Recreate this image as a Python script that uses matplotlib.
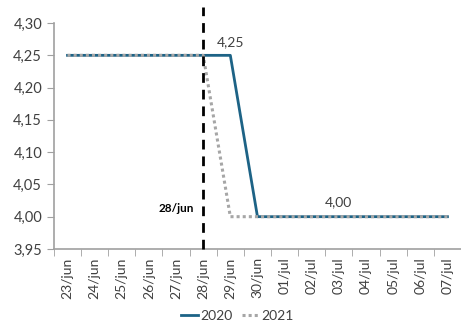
import numpy as np
import matplotlib.pyplot as plt

dias = ["23/jun", "24/jun", "25/jun", "26/jun", "27/jun", "28/jun", "29/jun", "30/jun",
        "01/jul", "02/jul", "03/jul", "04/jul", "05/jul", "06/jul", "07/jul"]
s2020 = [4.25, 4.25, 4.25, 4.25, 4.25, 4.25, 4.25, 4.00, 4.00, 4.00, 4.00, 4.00, 4.00, 4.00, 4.00]
s2021 = [4.25, 4.25, 4.25, 4.25, 4.25, 4.25, 4.00, 4.00, 4.00, 4.00, 4.00, 4.00, 4.00, 4.00, 4.00]
yticks = [3.95, 4.00, 4.05, 4.10, 4.15, 4.20, 4.25, 4.30]

plt.rcParams['font.family'] = ['Lato', 'DejaVu Sans']
fig = plt.figure(figsize=(4.61, 3.25), dpi=100)
ax = fig.add_axes([0.117, 0.234, 0.883, 0.695])

x = np.arange(len(dias))
ax.plot(x, s2020, color='#1d6386', lw=2, label='2020', zorder=3)
ax.plot(x, s2021, color='#a6a6a6', lw=2.2, ls=(0, (1, 1)), label='2021', zorder=4)

ax.plot([5, 5], [3.95, 4.325], color='black', lw=2, ls=(0, (3.5, 2.5)), clip_on=False, zorder=5)
ax.text(4.65, 4.013, "28/jun", fontsize=8.5, fontweight='bold', ha='right', va='center')
ax.text(6.0, 4.27, "4,25", fontsize=10, color='#404040', ha='center', va='center')
ax.text(10.0, 4.022, "4,00", fontsize=10, color='#404040', ha='center', va='center')

ax.set_xlim(-0.5, len(dias) - 0.5)
ax.set_ylim(3.95, 4.30)
ax.set_yticks(yticks)
ax.set_yticklabels([f"{v:.2f}".replace('.', ',') for v in yticks], fontsize=10.5, color='#404040')
ax.set_xticks(x)
ax.set_xticklabels(dias, rotation=90, fontsize=10, color='#404040')
ax.set_xticks(np.arange(-0.5, len(dias)), minor=True)
ax.tick_params(axis='x', which='major', length=0, pad=6)
ax.tick_params(axis='x', which='minor', length=5, color='#a0a0a0')
ax.tick_params(axis='y', length=5, color='#a0a0a0')
for s in ['top', 'right']:
    ax.spines[s].set_visible(False)
for s in ['left', 'bottom']:
    ax.spines[s].set_color('#a0a0a0')
    ax.spines[s].set_linewidth(1.2)

fig.legend(loc='lower center', bbox_to_anchor=(0.515, -0.03), ncol=2, frameon=False,
           fontsize=10, handlelength=1.2, handletextpad=0.15, columnspacing=0.7,
           labelcolor='#404040')

fig.savefig('out.png', dpi=100)
